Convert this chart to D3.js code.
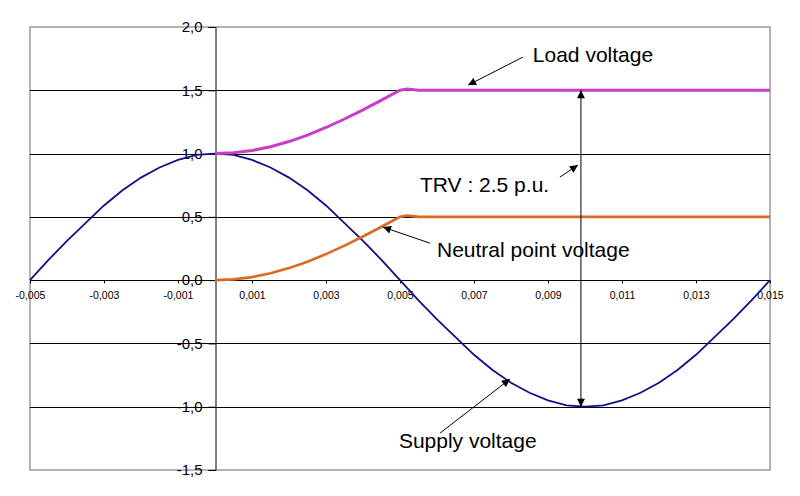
<!DOCTYPE html>
<html><head><meta charset="utf-8">
<script src="https://cdn.jsdelivr.net/npm/d3@7"></script>
<style>
html,body{margin:0;padding:0;background:#fff;}
svg{display:block;font-family:"Liberation Sans",Arial,sans-serif;}
</style></head>
<body><svg id="c" width="800" height="496"></svg>
<script>
// ---- data (time in s, voltage in p.u.) ----
const supplyT = [-0.005,-0.0045,-0.004,-0.0035,-0.003,-0.0025,-0.002,-0.0015,-0.001,-0.0005,0,
  0.0005,0.001,0.0015,0.002,0.0025,0.003,0.0035,0.004,0.0045,0.005,
  0.0055,0.006,0.0065,0.007,0.0075,0.008,0.0085,0.009,0.0095,0.01,
  0.0105,0.011,0.0115,0.012,0.0125,0.013,0.0135,0.014,0.0145,0.015];
const supplyV = [0,0.16,0.31,0.45,0.59,0.71,0.81,0.89,0.95,0.99,1,
  0.99,0.95,0.89,0.81,0.71,0.59,0.45,0.31,0.16,0,
  -0.16,-0.31,-0.45,-0.59,-0.71,-0.81,-0.89,-0.95,-0.99,-1,
  -0.99,-0.95,-0.89,-0.81,-0.71,-0.59,-0.45,-0.31,-0.16,0];
const neutralT = [0,0.0005,0.001,0.0015,0.002,0.0025,0.003,0.0035,0.004,0.0045,0.005,0.0052,0.0055,0.015];
const neutralV = [0,0.006,0.024,0.054,0.095,0.146,0.206,0.273,0.345,0.422,0.5,0.51,0.5,0.5];
const loadT = [0,0.0005,0.001,0.0015,0.002,0.0025,0.003,0.0035,0.004,0.0045,0.005,0.0052,0.0055,0.015];
const loadV = [1,1.006,1.024,1.054,1.095,1.146,1.206,1.273,1.345,1.422,1.5,1.51,1.5,1.5];
const xTicks = [-0.005,-0.003,-0.001,0.001,0.003,0.005,0.007,0.009,0.011,0.013,0.015];
const yTicks = [-1.5,-1.0,-0.5,0,0.5,1.0,1.5,2.0];
const gridValues = [-1.0,-0.5,0.5,1.0,1.5];
// annotations
const labels = ["Load voltage","TRV : 2.5 p.u.","Neutral point voltage","Supply voltage"];
const labelPos = [[0.00859,1.722],[0.00554,0.695],[0.0060,0.182],[0.00497,-1.327]];
const arrowFrom = [[0.00832,1.762],[0.00932,0.814],[0.00581,0.292],[0.00608,-1.209]];
const arrowTo = [[0.00684,1.541],[0.00981,0.909],[0.00454,0.419],[0.00797,-0.782]];
const trvT = 0.00989, trvTop = 1.5, trvBottom = -1.0;

// ---- chart ----
const svg = d3.select("#c");
const x = d3.scaleLinear().domain([-0.005,0.015]).range([30,770]);
const y = d3.scaleLinear().domain([-1.5,2]).range([470,27]);
const comma = (v,d) => d3.format("."+d+"f")(v).replace(".",",").replace("−","-");

const defs = svg.append("defs");
defs.append("marker").attr("id","ah").attr("viewBox","0 0 10 10").attr("refX",10).attr("refY",5)
  .attr("markerWidth",9).attr("markerHeight",8).attr("markerUnits","userSpaceOnUse").attr("orient","auto")
  .append("path").attr("d","M0,0L10,5L0,10z").attr("fill","#000");

// plot border
svg.append("rect").attr("x",x(-0.005)).attr("y",y(2)).attr("width",x(0.015)-x(-0.005)).attr("height",y(-1.5)-y(2))
  .attr("fill","none").attr("stroke","#9a9a9a").attr("stroke-width",1.5);
// gridlines
svg.append("g").selectAll("line").data(gridValues).join("line")
  .attr("x1",x(-0.005)).attr("x2",x(0.015)).attr("y1",d=>Math.round(y(d))+0.5).attr("y2",d=>Math.round(y(d))+0.5)
  .attr("stroke","#000").attr("stroke-width",1);

// y axis at x=0
const yAxis = d3.axisLeft(y).tickValues(yTicks).tickSize(7).tickPadding(6).tickFormat(d=>comma(d,1));
const gy = svg.append("g").attr("transform",`translate(${Math.round(x(0))+0.5},0)`).call(yAxis);
gy.select(".domain").attr("stroke","#000");
gy.selectAll(".tick line").attr("stroke","#000");
gy.selectAll("text").attr("font-size",15).attr("fill","#000").attr("font-family","Liberation Sans, Arial, sans-serif");

// x axis at y=0
const xAxis = d3.axisBottom(x).tickValues(xTicks).tickSize(3).tickPadding(8).tickFormat(d=>comma(d,3));
const gx = svg.append("g").attr("transform",`translate(0,${Math.round(y(0))+0.5})`).call(xAxis);
gx.select(".domain").attr("stroke","#000").attr("d",`M${x(-0.005)},0H${x(0.015)}`);
gx.selectAll(".tick line").attr("stroke","#000");
gx.selectAll("text").attr("font-size",10.5).attr("fill","#000").attr("font-family","Liberation Sans, Arial, sans-serif");

// series
const line = d3.line().x(d=>x(d[0])).y(d=>y(d[1]));
svg.append("path").datum(supplyT.map((t,i)=>[t,supplyV[i]])).attr("d",line)
  .attr("fill","none").attr("stroke","#10108a").attr("stroke-width",1.8);
svg.append("path").datum(neutralT.map((t,i)=>[t,neutralV[i]])).attr("d",line)
  .attr("fill","none").attr("stroke","#d86a22").attr("stroke-width",2.6);
svg.append("path").datum(loadT.map((t,i)=>[t,loadV[i]])).attr("d",line)
  .attr("fill","none").attr("stroke","#c93ec9").attr("stroke-width",3);

// TRV double arrow
svg.append("line").attr("x1",x(trvT)).attr("x2",x(trvT)).attr("y1",y(0.75)).attr("y2",y(trvTop))
  .attr("stroke","#000").attr("stroke-width",1).attr("marker-end","url(#ah)");
svg.append("line").attr("x1",x(trvT)).attr("x2",x(trvT)).attr("y1",y(0.75)).attr("y2",y(trvBottom))
  .attr("stroke","#000").attr("stroke-width",1).attr("marker-end","url(#ah)");

// annotation arrows and texts
svg.append("g").selectAll("line").data(labels).join("line")
  .attr("x1",(d,i)=>x(arrowFrom[i][0])).attr("y1",(d,i)=>y(arrowFrom[i][1]))
  .attr("x2",(d,i)=>x(arrowTo[i][0])).attr("y2",(d,i)=>y(arrowTo[i][1]))
  .attr("stroke","#000").attr("stroke-width",1).attr("marker-end","url(#ah)");
svg.append("g").selectAll("text").data(labels).join("text")
  .attr("x",(d,i)=>x(labelPos[i][0])).attr("y",(d,i)=>y(labelPos[i][1]))
  .attr("font-size",21).attr("fill","#000").text(d=>d);
</script></body></html>
